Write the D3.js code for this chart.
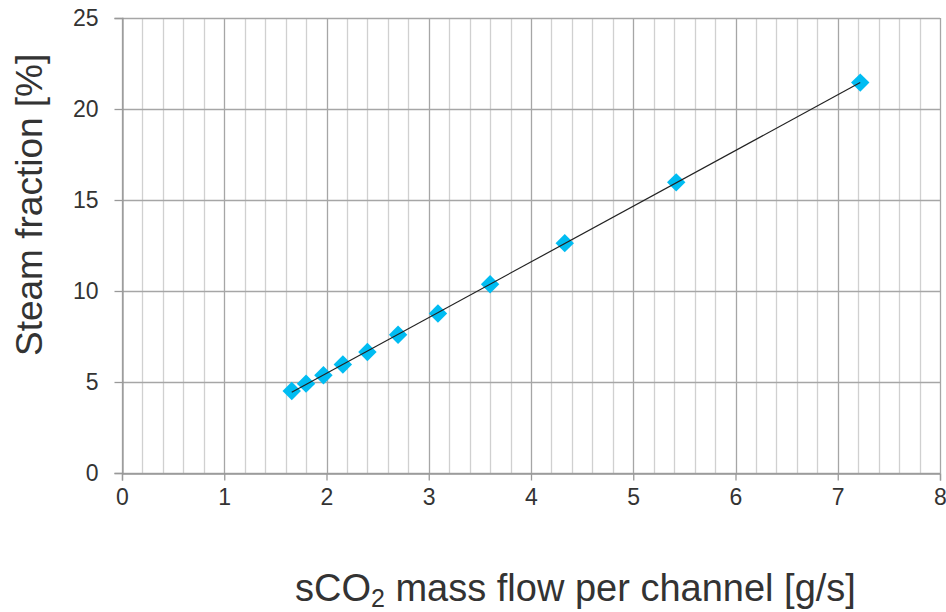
<!DOCTYPE html>
<html>
<head>
<meta charset="utf-8">
<script src="https://cdn.jsdelivr.net/npm/d3@7"></script>
<style>
  body { margin: 0; background: #fff; }
  text { font-family: "Liberation Sans", Arial, sans-serif; fill: #333; }
</style>
</head>
<body>
<div id="chart"></div>
<script>
// sCO2 mass flow per channel [g/s] and steam fraction [%]
const massFlow = [1.66, 1.80, 1.97, 2.16, 2.40, 2.70, 3.09, 3.60, 4.33, 5.42, 7.22];
const steamFraction = [4.51, 4.91, 5.37, 5.96, 6.65, 7.60, 8.76, 10.37, 12.63, 15.97, 21.45];
const xTicks = [0, 1, 2, 3, 4, 5, 6, 7, 8];
const yTicks = [0, 5, 10, 15, 20, 25];

const W = 946, H = 612;
const margin = { top: 18, right: 6, bottom: 139, left: 122 };
const width = W - margin.left - margin.right;
const height = H - margin.top - margin.bottom;

const svgRoot = d3.select("#chart").append("svg")
    .attr("width", W)
    .attr("height", H);
const svg = svgRoot.append("g")
    .attr("transform", `translate(${margin.left},${margin.top})`);

const x = d3.scaleLinear().domain([0, 8]).range([0, width]);
const y = d3.scaleLinear().domain([0, 25]).range([height, 0]);

// vertical grid, minor every 0.2
d3.range(0, 8.001, 0.2).forEach(v => {
    const major = Math.abs(v - Math.round(v)) < 1e-6;
    svg.append("line")
        .attr("x1", Math.round(x(v)) + 0.5)
        .attr("x2", Math.round(x(v)) + 0.5)
        .attr("y1", 0)
        .attr("y2", height)
        .attr("stroke", major ? "#a6a6a6" : "#d0d0d0")
        .attr("stroke-width", 1.3);
});

// horizontal grid
yTicks.forEach(t => {
    svg.append("line")
        .attr("x1", 0)
        .attr("x2", width)
        .attr("y1", Math.round(y(t)) + 0.5)
        .attr("y2", Math.round(y(t)) + 0.5)
        .attr("stroke", "#a6a6a6")
        .attr("stroke-width", 1.3);
});

// axes
const xAxis = svg.append("g")
    .attr("transform", `translate(0,${Math.round(height) + 0.5})`)
    .call(d3.axisBottom(x).tickValues(xTicks).tickFormat(d3.format("d")).tickSize(7).tickPadding(6));
const yAxis = svg.append("g")
    .attr("transform", "translate(0.5,0)")
    .call(d3.axisLeft(y).tickValues(yTicks).tickFormat(d3.format("d")).tickSize(8).tickPadding(16));

[xAxis, yAxis].forEach(g => {
    g.select(".domain").attr("stroke", "#999").attr("stroke-width", 1.3);
    g.selectAll(".tick line").attr("stroke", "#999").attr("stroke-width", 1.3);
    g.selectAll(".tick text")
        .attr("font-size", "23px")
        .attr("fill", "#333");
});
xAxis.selectAll(".tick text").attr("dy", "0.8em");

// linear trend line (least squares)
const n = massFlow.length;
const mx = d3.mean(massFlow), my = d3.mean(steamFraction);
let sxy = 0, sxx = 0;
for (let i = 0; i < n; i++) {
    sxy += (massFlow[i] - mx) * (steamFraction[i] - my);
    sxx += (massFlow[i] - mx) ** 2;
}
const slope = sxy / sxx;
const intercept = my - slope * mx;
const xMin = d3.min(massFlow), xMax = d3.max(massFlow);

// diamond markers
const points = massFlow.map((v, i) => ({ x: v, y: steamFraction[i] }));
const symbol = d3.symbol().type(d3.symbolSquare).size(170);
svg.selectAll(".pt")
    .data(points)
    .enter()
    .append("path")
    .attr("class", "pt")
    .attr("d", symbol)
    .attr("transform", d => `translate(${x(d.x)},${y(d.y)}) rotate(45)`)
    .attr("fill", "#00bcf2");

// trend line on top of markers
svg.append("line")
    .attr("x1", x(xMin))
    .attr("y1", y(intercept + slope * xMin))
    .attr("x2", x(xMax))
    .attr("y2", y(intercept + slope * xMax))
    .attr("stroke", "#222")
    .attr("stroke-width", 1.2);

// axis titles
const xTitle = svgRoot.append("text")
    .attr("x", 295)
    .attr("y", 601)
    .attr("font-size", "38px")
    .attr("text-anchor", "start");
xTitle.append("tspan").text("sCO");
xTitle.append("tspan").attr("font-size", "25px").attr("dy", "6").text("2");
xTitle.append("tspan").attr("dy", "-6").text(" mass flow per channel [g/s]");

svgRoot.append("text")
    .attr("transform", "translate(42,356) rotate(-90)")
    .attr("font-size", "37px")
    .attr("text-anchor", "start")
    .text("Steam fraction [%]");
</script>
</body>
</html>
